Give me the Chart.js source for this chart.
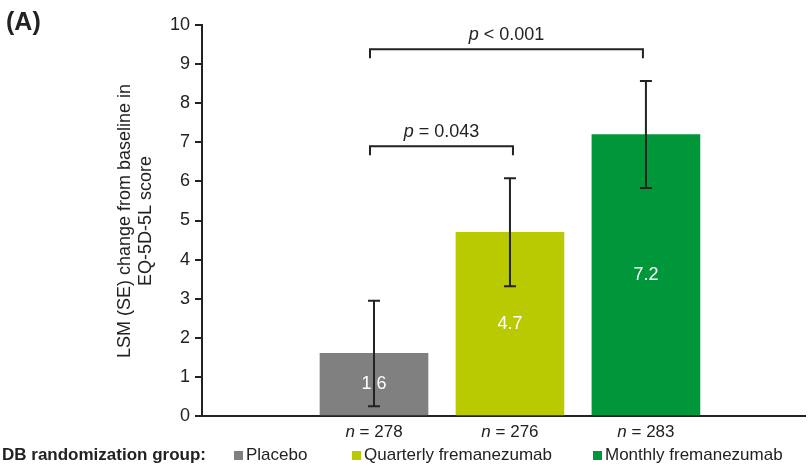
<!DOCTYPE html>
<html>
<head>
<meta charset="utf-8">
<script src="https://cdn.jsdelivr.net/npm/chart.js@4.4.0/dist/chart.umd.min.js"></script>
<style>
html, body { margin: 0; padding: 0; background: #fff; }
#wrap { width: 811px; height: 467px; position: relative; }
</style>
</head>
<body>
<div id="wrap"><canvas id="eqChart"></canvas></div>
<script>
const groups = ["Placebo", "Quarterly fremanezumab", "Monthly fremanezumab"];
const lsm = [1.6, 4.7, 7.2];
const se = [1.35, 1.38, 1.37];
const nPatients = [278, 276, 283];
const barColors = ["#808080", "#b9ca00", "#00973a"];
const yTicks = [0, 1, 2, 3, 4, 5, 6, 7, 8, 9, 10];
const comparisons = [[0, 1], [0, 2]];
const pValues = [" = 0.043", " < 0.001"];
const yTitle = ["LSM (SE) change from baseline in", "EQ-5D-5L score"];

const FONT = "'Liberation Sans', Arial, sans-serif";
const INK = "#222";

// text with an italic first part, centred on cx
function drawItalicLead(ctx, lead, rest, cx, y, size) {
    ctx.font = "italic " + size + "px " + FONT;
    const w1 = ctx.measureText(lead).width;
    ctx.font = size + "px " + FONT;
    const w2 = ctx.measureText(rest).width;
    let x = cx - (w1 + w2) / 2;
    ctx.textAlign = "left";
    ctx.font = "italic " + size + "px " + FONT;
    ctx.fillText(lead, x, y);
    ctx.font = size + "px " + FONT;
    ctx.fillText(rest, x + w1, y);
}

const extras = {
    id: "extras",
    afterDatasetsDraw(chart) {
        const ctx = chart.ctx;
        const ys = chart.scales.y;
        const bars = chart.getDatasetMeta(0).data;
        ctx.save();
        ctx.strokeStyle = INK;
        ctx.lineWidth = 2;

        // value labels inside bars
        ctx.fillStyle = "#fff";
        ctx.font = "18px " + FONT;
        ctx.textAlign = "center";
        ctx.textBaseline = "middle";
        bars.forEach((b, i) => {
            ctx.fillText(lsm[i].toFixed(1), b.x, (b.y + b.base) / 2);
        });

        // error bars
        bars.forEach((b, i) => {
            const top = ys.getPixelForValue(lsm[i] + se[i]);
            const bot = ys.getPixelForValue(lsm[i] - se[i]);
            ctx.beginPath();
            ctx.moveTo(b.x, top); ctx.lineTo(b.x, bot);
            ctx.moveTo(b.x - 6, top); ctx.lineTo(b.x + 6, top);
            ctx.moveTo(b.x - 6, bot); ctx.lineTo(b.x + 6, bot);
            ctx.stroke();
        });

        // significance brackets
        const bracketY = [ys.getPixelForValue(6.9), ys.getPixelForValue(9.38)];
        ctx.fillStyle = INK;
        ctx.textBaseline = "alphabetic";
        comparisons.forEach((c, k) => {
            const x1 = bars[c[0]].x - 4;
            const x2 = bars[c[1]].x + (c[1] === 2 ? -3 : 3);
            const y = bracketY[k];
            ctx.beginPath();
            ctx.moveTo(x1, y + 9); ctx.lineTo(x1, y); ctx.lineTo(x2, y); ctx.lineTo(x2, y + 9);
            ctx.stroke();
            drawItalicLead(ctx, "p", pValues[k], (x1 + x2) / 2, y - 9, 18);
        });

        // n under bars
        bars.forEach((b, i) => {
            drawItalicLead(ctx, "n", " = " + nPatients[i], b.x, chart.chartArea.bottom + 21, 17);
        });

        // y axis title
        ctx.save();
        ctx.translate(135.5, 221);
        ctx.rotate(-Math.PI / 2);
        ctx.textAlign = "center";
        ctx.textBaseline = "middle";
        ctx.font = "18px " + FONT;
        ctx.fillText(yTitle[0], 0, -10.5);
        ctx.fillText(yTitle[1], 0, 10.5);
        ctx.restore();

        // panel letter
        ctx.font = "bold 25px " + FONT;
        ctx.textAlign = "left";
        ctx.textBaseline = "alphabetic";
        ctx.fillText("(A)", 6, 30);

        // legend row
        const ly = 460;
        ctx.font = "bold 17px " + FONT;
        ctx.fillText("DB randomization group:", 2, ly);
        const legendX = [234, 352, 593];
        ctx.font = "17px " + FONT;
        groups.forEach((g, i) => {
            ctx.fillStyle = barColors[i];
            ctx.fillRect(legendX[i], ly - 9, 9, 9);
            ctx.fillStyle = INK;
            ctx.fillText(g, legendX[i] + 12, ly);
        });
        ctx.restore();
    }
};

new Chart(document.getElementById("eqChart").getContext("2d"), {
    type: "bar",
    data: {
        labels: groups,
        datasets: [{
            label: "LSM change",
            data: lsm.map((v, i) => ({ x: i + 1, y: v })),
            backgroundColor: barColors,
            barThickness: 108
        }]
    },
    options: {
        responsive: true,
        maintainAspectRatio: false,
        animation: false,
        layout: { padding: { left: 0, right: 6, top: 25, bottom: 51 } },
        plugins: { legend: { display: false }, tooltip: { enabled: false } },
        scales: {
            x: {
                type: "linear",
                offset: false,
                min: -0.265,
                max: 4.17,
                ticks: { display: false },
                grid: { display: false },
                border: { color: INK, width: 2 },
                afterFit(s) { s.height = 0; }
            },
            y: {
                min: 0,
                max: 10,
                afterBuildTicks(s) { s.ticks = yTicks.map(v => ({ value: v })); },
                ticks: { color: INK, font: { family: FONT, size: 18 }, padding: 5 },
                grid: { drawOnChartArea: false, tickLength: 7, color: INK, lineWidth: 2 },
                border: { color: INK, width: 2 },
                afterFit(s) { s.width = 202; }
            }
        }
    },
    plugins: [extras]
});
</script>
</body>
</html>
